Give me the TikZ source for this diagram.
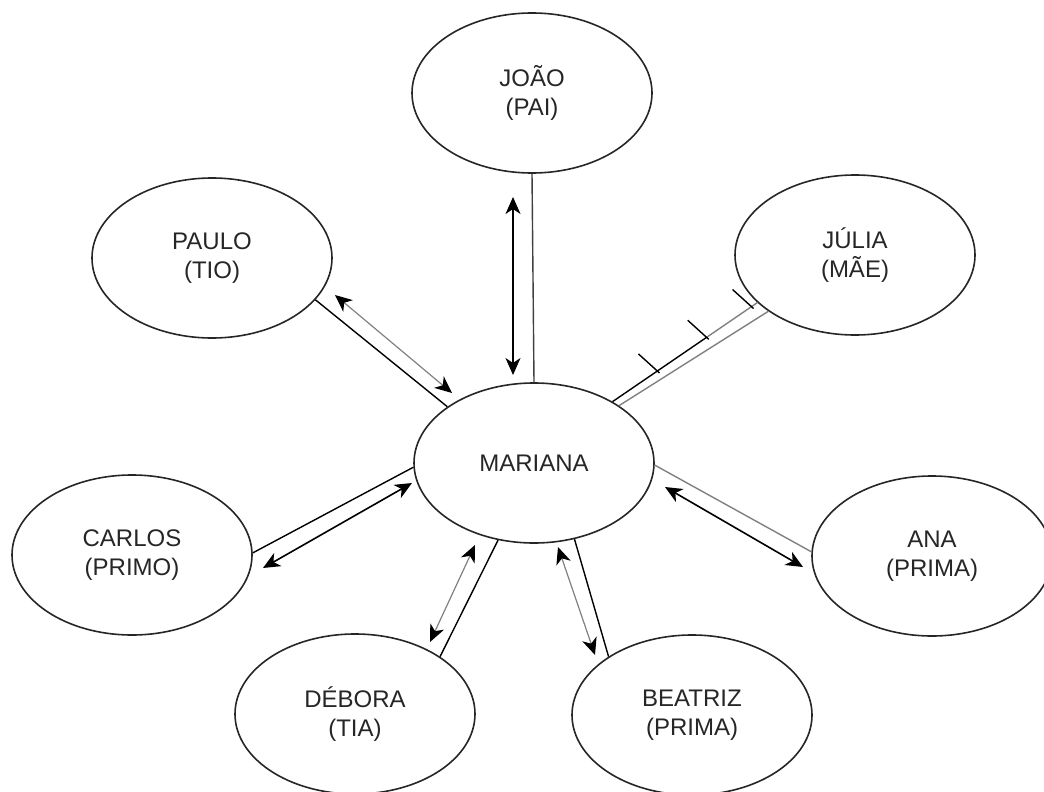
\documentclass[tikz,border=0pt]{standalone}
\usepackage{fontspec}
\setmainfont{Liberation Sans}
\usetikzlibrary{arrows.meta,calc,shapes.geometric}

\begin{document}
\begin{tikzpicture}[x=1pt, y=-1pt,
	person/.style={draw=black!85, line width=1.6pt, ellipse, minimum width=240pt, minimum height=160pt, inner sep=0pt, align=center, text=black!85, font=\fontsize{24}{29}\selectfont},
	tie/.style={line width=1.4pt},
	relarrow/.style={line width=1.6pt, {Stealth[length=17pt, width=15pt, inset=5pt, black]}-{Stealth[length=17pt, width=15pt, inset=5pt, black]}}]
	\useasboundingbox (0, 0) rectangle (1044, 792);
	% People:
	\node[person] (joao) at (532, 93){JOÃO\\(PAI)};
	\node[person] (paulo) at (212, 258){PAULO\\(TIO)};
	\node[person] (julia) at (855, 255){JÚLIA\\(MÃE)};
	\node[person] (mariana) at (534, 463){MARIANA};
	\node[person] (carlos) at (132, 555){CARLOS\\(PRIMO)};
	\node[person] (ana) at (932, 556){ANA\\(PRIMA)};
	\node[person] (debora) at (355, 714){DÉBORA\\(TIA)};
	\node[person] (beatriz) at (692, 715){BEATRIZ\\(PRIMA)};
	% Ties:
	\draw[tie, black!75] (joao.south) -- (mariana.north);
	\draw[tie] (paulo.-22.6) -- (mariana.147);
	\draw[tie, gray] (mariana.-1) -- (ana.178);
	\draw[tie] (carlos.1) -- (mariana.-178);
	\draw[tie] (mariana.-115) -- (debora.34);
	\draw[tie] (mariana.-62) -- (beatriz.145);
	% Julia, double line with marks:
	\draw[tie, gray] (mariana.34) -- (julia.-147);
	\path (mariana.38) -- (julia.-154) coordinate[pos=0.31] (t1) coordinate[pos=0.65] (t2) coordinate[pos=0.96] (t3);
	\draw[tie] (mariana.38) -- (t2);
	\draw[tie, gray] (t2) -- (julia.-154);
	\foreach \t in {t1, t2, t3}
		\draw[tie] ($(\t)+(2, 2)$) -- ++(-21, -19);
	% Arrows:
	\coordinate (joaoA) at (513, 197);
	\coordinate (joaoB) at (513, 375);
	\coordinate (pauloA) at (335, 295);
	\coordinate (pauloB) at (452, 393);
	\coordinate (anaA) at (665, 487);
	\coordinate (anaB) at (803, 567);
	\coordinate (carlosA) at (263, 568);
	\coordinate (carlosB) at (412, 483);
	\coordinate (deboraA) at (475, 545);
	\coordinate (deboraB) at (430, 642);
	\coordinate (beatrizA) at (558, 547);
	\coordinate (beatrizB) at (595, 655);
	\draw[relarrow] (joaoA) -- (joaoB);
	\draw[relarrow, draw=gray, line width=1.2pt] (pauloA) -- (pauloB);
	\draw[relarrow] (anaA) -- (anaB);
	\draw[relarrow] (carlosA) -- (carlosB);
	\draw[relarrow, draw=gray, line width=1.2pt] (deboraA) -- (deboraB);
	\draw[relarrow, draw=gray, line width=1.2pt] (beatrizA) -- (beatrizB);
\end{tikzpicture}
\end{document}
